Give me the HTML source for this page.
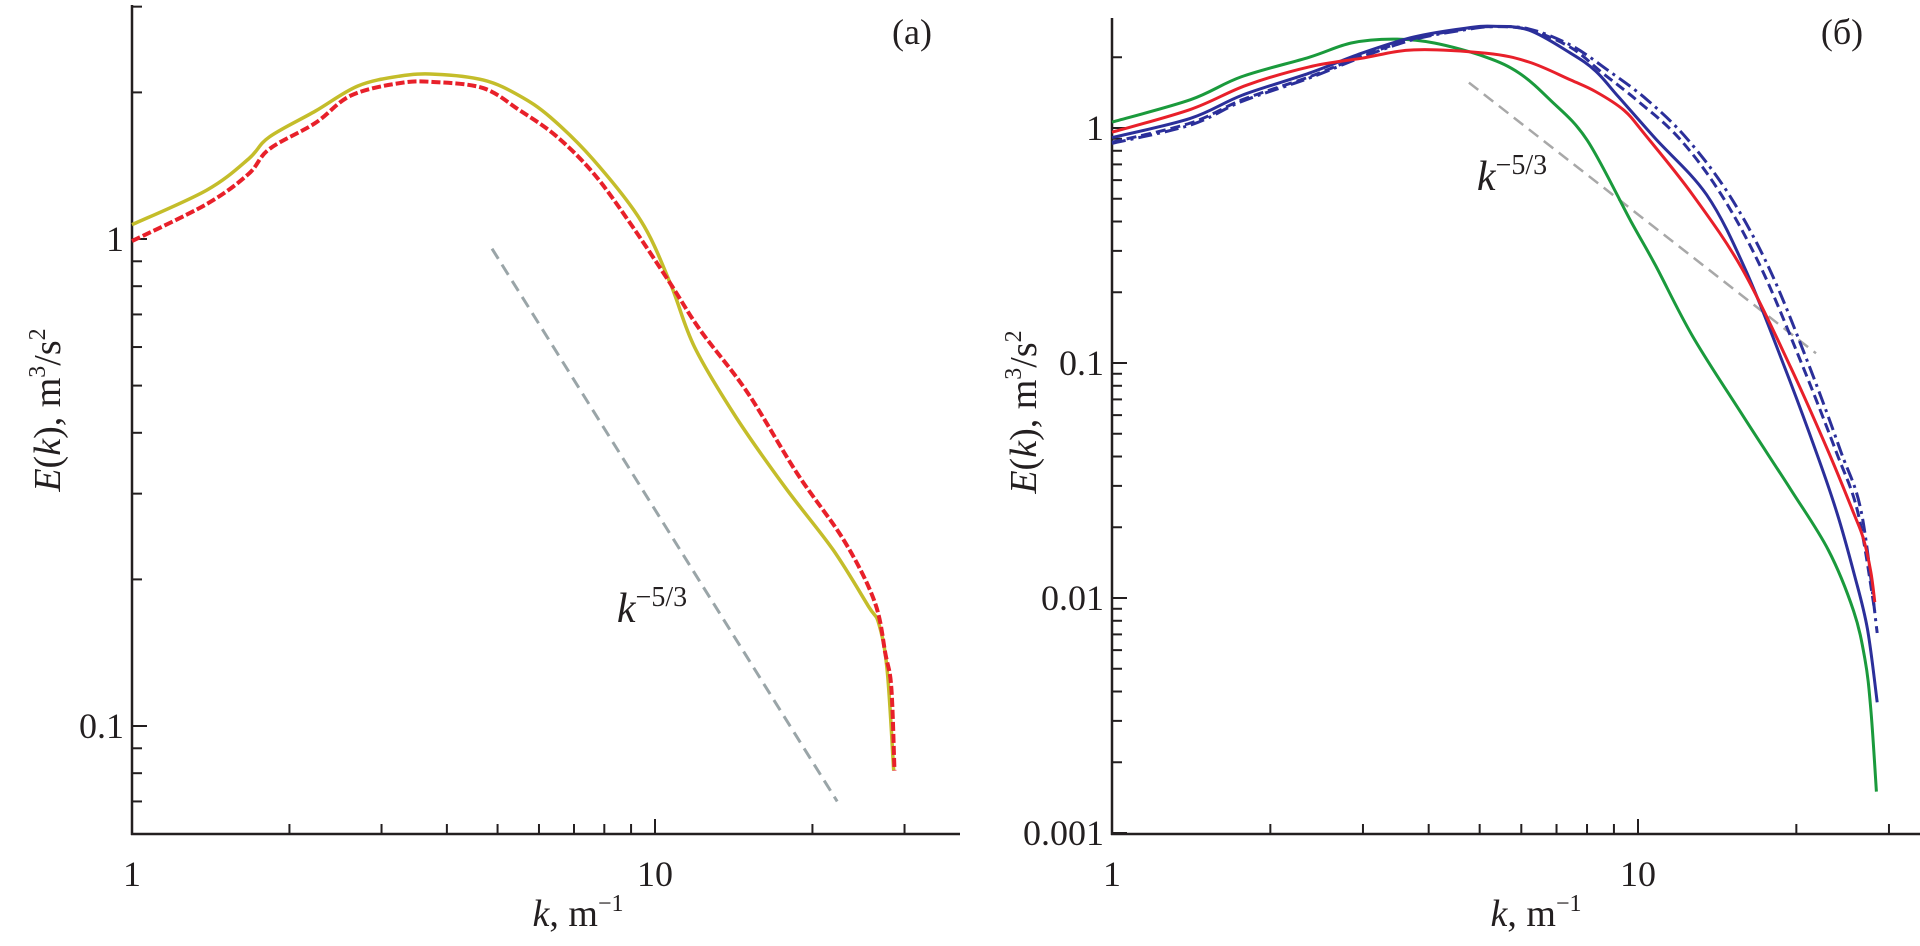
<!DOCTYPE html>
<html><head><meta charset="utf-8"><style>
html,body{margin:0;padding:0;background:#fff}
svg{display:block;font-family:"Liberation Serif",serif}
</style></head><body>
<svg id="chart" width="1920" height="946" viewBox="0 0 1920 946"></svg>
<script>
// ---- Panel (a) data ----
const aYellowK=[1,1.39,1.67,1.83,2.24,2.7,3.25,3.8,4.7,5.5,6.3,7.6,9.4,10.7,11.9,14.3,17.7,21.9,25.6,26.8,27.8,28.6];
const aYellowE=[1.07,1.26,1.46,1.62,1.83,2.06,2.16,2.18,2.12,1.97,1.78,1.46,1.09,0.81,0.6,0.43,0.31,0.23,0.176,0.162,0.13,0.081];
const aRedK=[1,1.39,1.67,1.83,2.24,2.62,3.25,3.8,4.7,5.5,6.46,7.6,8.9,10.7,12.2,15,18.7,23,26.3,27.6,28.3,28.7];
const aRedE=[0.99,1.18,1.36,1.53,1.73,1.97,2.09,2.1,2.04,1.84,1.63,1.37,1.09,0.81,0.65,0.485,0.33,0.24,0.18,0.14,0.12,0.081];
const aRefK=[4.88,22.3];
const aRefE=[0.955,0.07];
// ---- Panel (b) data ----
const bGreenK=[1,1.41,1.76,2.37,2.85,3.42,4.1,5.15,5.95,6.8,8.0,9.7,10.8,12.7,15.8,19.5,23,25.7,27.0,27.7,28.4];
const bGreenE=[1.06,1.32,1.65,2.0,2.3,2.39,2.3,2.0,1.71,1.32,0.89,0.4,0.26,0.13,0.06,0.029,0.016,0.0088,0.0055,0.0034,0.0015];
const bRedK=[1,1.41,1.8,2.37,2.98,3.75,5.15,6.2,7.45,8.3,9.4,10.3,12.7,15.8,19.5,23,25.7,26.8,27.7,28.2];
const bRedE=[0.96,1.2,1.52,1.82,1.98,2.15,2.08,1.91,1.6,1.43,1.19,0.94,0.52,0.25,0.096,0.042,0.023,0.018,0.013,0.0096];
const bBlueK=[1,1.41,1.77,2.37,2.98,3.75,4.7,5.3,6.2,7.45,8.3,9.2,10.8,13.5,16.0,19.0,21.8,23.9,25.8,27.3,28.5];
const bBlueE=[0.91,1.1,1.38,1.71,2.08,2.44,2.66,2.71,2.61,2.08,1.75,1.35,0.9,0.52,0.25,0.096,0.042,0.023,0.0125,0.0074,0.0036];
const bBlueDashK=[1,1.41,1.77,2.37,2.98,3.75,4.7,5.3,6.2,7.45,8.6,10.0,12.0,14.4,17.2,20.6,23.8,26.2,28.2];
const bBlueDashE=[0.87,1.05,1.32,1.65,2.02,2.4,2.64,2.7,2.62,2.2,1.7,1.3,0.9,0.52,0.25,0.096,0.042,0.023,0.0088];
const bBlueDotK=[1,1.41,1.77,2.37,2.98,3.75,4.7,5.3,6.2,7.45,8.8,10.4,12.4,14.9,17.8,21.2,24.3,26.6,28.5];
const bBlueDotE=[0.86,1.03,1.3,1.63,2.0,2.38,2.62,2.7,2.64,2.25,1.75,1.32,0.9,0.52,0.25,0.096,0.042,0.023,0.0071];
const bRefK=[4.77,21.8];
const bRefE=[1.56,0.11];

const NS="http://www.w3.org/2000/svg";
const svg=document.getElementById('chart');
function mk(tag,attrs,parent){const e=document.createElementNS(NS,tag);for(const k in attrs)e.setAttribute(k,attrs[k]);(parent||svg).appendChild(e);return e;}

function makeAxes(x0,xDec,y1,yDec){
  return {x:k=>x0+Math.log10(k)*xDec, y:v=>y1-Math.log10(v)*yDec};
}
const A=makeAxes(132,523,239,487);
const B=makeAxes(1112,526,128,235);

function path(ax,K,E,attrs,name){
  const P=K.map((k,i)=>[ax.x(k),ax.y(E[i])]);
  let d='M'+P[0][0].toFixed(1)+','+P[0][1].toFixed(1);
  for(let i=0;i<P.length-1;i++){
    const p0=P[i-1]||P[i],p1=P[i],p2=P[i+1],p3=P[i+2]||P[i+1];
    const c1=[p1[0]+(p2[0]-p0[0])/6,p1[1]+(p2[1]-p0[1])/6];
    const c2=[p2[0]-(p3[0]-p1[0])/6,p2[1]-(p3[1]-p1[1])/6];
    d+=' C'+c1.map(v=>v.toFixed(1)).join(',')+' '+c2.map(v=>v.toFixed(1)).join(',')+' '+p2.map(v=>v.toFixed(1)).join(',');
  }
  const p=mk('path',Object.assign({d:d,fill:'none','stroke-linejoin':'round'},attrs));
  
  
  return p;
}

function frame(ax,x0,xEnd,yTop,yBot,yMajors,yMinors,name){
  const g=mk('g',{});
  
  
  mk('line',{x1:x0,y1:yTop,x2:x0,y2:yBot+1,stroke:'#231f20','stroke-width':2.5},g);
  mk('line',{x1:x0-1,y1:yBot,x2:xEnd,y2:yBot,stroke:'#231f20','stroke-width':2.5},g);
  for(let dec=1;dec<=10;dec*=10){for(let m=2;m<=9;m++){const k=m*dec;const x=ax.x(k);if(x<xEnd)mk('line',{x1:x,y1:yBot,x2:x,y2:yBot-10,stroke:'#231f20','stroke-width':2},g);}}
  const x10=ax.x(10);
  mk('line',{x1:x10,y1:yBot,x2:x10,y2:yBot-15,stroke:'#231f20','stroke-width':2},g);
  [[1,'1'],[10,'10']].forEach(([k,t])=>{const tx=mk('text',{x:ax.x(k),y:yBot+52,'font-size':36,'text-anchor':'middle',fill:'#231f20'},g);tx.textContent=t;});
  yMinors.forEach(v=>{const y=ax.y(v);if(y>yTop&&y<yBot)mk('line',{x1:x0,y1:y,x2:x0+10,y2:y,stroke:'#231f20','stroke-width':2},g);});
  yMajors.forEach(([v,t])=>{const y=ax.y(v);mk('line',{x1:x0,y1:y,x2:x0+15,y2:y,stroke:'#231f20','stroke-width':2},g);const tx=mk('text',{x:x0-8,y:y+12,'font-size':36,'text-anchor':'end',fill:'#231f20'},g);tx.textContent=t;});
}
const minA=[];[0.001,0.01,0.1,1].forEach(d=>{for(let m=2;m<=9;m++)minA.push(m*d);});
frame(A,132,960,5,834,[[0.1,'0.1'],[1,'1']],minA,'axes-a');
frame(B,1112,1920,18,834,[[0.001,'0.001'],[0.01,'0.01'],[0.1,'0.1'],[1,'1']],minA,'axes-b');

path(A,aRefK,aRefE,{stroke:'#9aa5a8','stroke-width':3,'stroke-dasharray':'12,7'},'k53-reference-a');
path(A,aYellowK,aYellowE,{stroke:'#c4bd2a','stroke-width':3.5},'yellow-line-a');
path(A,aRedK,aRedE,{stroke:'#e8202a','stroke-width':4,'stroke-dasharray':'9,3'},'red-dashed-line-a');
path(B,bRefK,bRefE,{stroke:'#a8a8a8','stroke-width':2.5,'stroke-dasharray':'12,7'},'k53-reference-b');
path(B,bGreenK,bGreenE,{stroke:'#1a9a3c','stroke-width':3},'green-line-b');
path(B,bBlueDotK,bBlueDotE,{stroke:'#2b2f9a','stroke-width':3,'stroke-dasharray':'14,5,3,5'},'blue-dashdot-line-b');
path(B,bBlueDashK,bBlueDashE,{stroke:'#2b2f9a','stroke-width':3,'stroke-dasharray':'10,5'},'blue-dashed-line-b');
path(B,bBlueK,bBlueE,{stroke:'#2b2f9a','stroke-width':3},'blue-line-b');
path(B,bRedK,bRedE,{stroke:'#e8202a','stroke-width':3},'red-line-b');

function label(x,y,html,size,name,rot){
  const t=mk('text',{x:x,y:y,'font-size':size,fill:'#231f20','text-anchor':'middle'});
  if(rot)t.setAttribute('transform','rotate(-90 '+x+' '+y+')');
  t.innerHTML=html;
  
  
}
label(652,622,'<tspan font-style="italic">k</tspan><tspan dy="-16" font-size="28">−5/3</tspan>',42,'k53-label-a');
label(1512,190,'<tspan font-style="italic">k</tspan><tspan dy="-16" font-size="28">−5/3</tspan>',42,'k53-label-b');
label(912,44,'(a)',36,'panel-label-a');
label(1842,44,'(б)',36,'panel-label-b');
label(578,926,'<tspan font-style="italic">k</tspan>, m<tspan dy="-15" font-size="24">−1</tspan>',38,'x-axis-title-a');
label(1536,926,'<tspan font-style="italic">k</tspan>, m<tspan dy="-15" font-size="24">−1</tspan>',38,'x-axis-title-b');
label(60,410,'<tspan font-style="italic">E</tspan>(<tspan font-style="italic">k</tspan>), m<tspan dy="-15" font-size="24">3</tspan><tspan dy="15">/s</tspan><tspan dy="-15" font-size="24">2</tspan>',38,'y-axis-title-a',true);
label(1036,412,'<tspan font-style="italic">E</tspan>(<tspan font-style="italic">k</tspan>), m<tspan dy="-15" font-size="24">3</tspan><tspan dy="15">/s</tspan><tspan dy="-15" font-size="24">2</tspan>',38,'y-axis-title-b',true);
</script>
</body></html>
